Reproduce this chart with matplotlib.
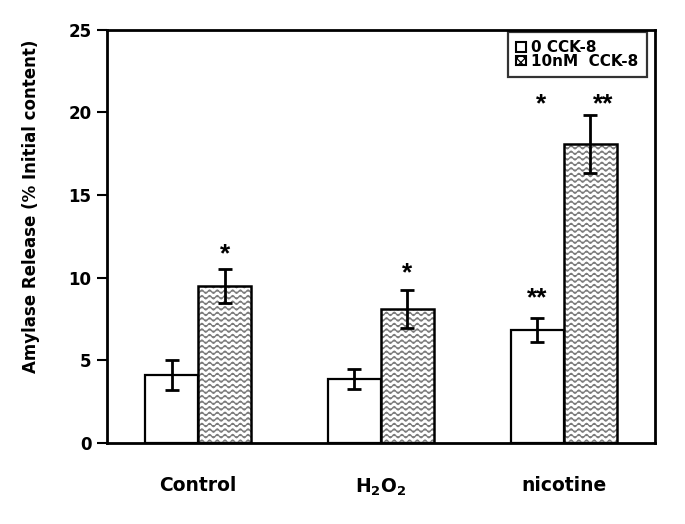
import warnings
warnings.filterwarnings("ignore")
import numpy as np
import matplotlib
matplotlib.use("Agg")
import matplotlib.pyplot as plt
import matplotlib.hatch as mhatch
from matplotlib.path import Path
from matplotlib.patches import Patch

# ---- data ----
categories = ["Control", r"$\mathbf{H_2O_2}$", "nicotine"]
basal = [4.1, 3.85, 6.85]
basal_err = [0.9, 0.6, 0.72]
cck = [9.5, 8.1, 18.1]
cck_err = [1.0, 1.15, 1.75]
series_labels = ["0 CCK-8", "10nM  CCK-8"]
yticks = [0, 5, 10, 15, 20, 25]


# ---- custom wavy hatch ----
class WaveHatch(mhatch.HatchPatternBase):
    def __init__(self, hatch, density):
        self.num_rows = int(hatch.count('~') * density)
        self.periods = 13
        self.pts = self.periods * 8 + 1
        self.num_vertices = self.num_rows * self.pts

    def set_vertices_and_codes(self, vertices, codes):
        ys = np.linspace(0.0, 1.0, self.num_rows, endpoint=False) + 0.5 / self.num_rows
        amp = 0.3 / self.num_rows
        xs = np.linspace(0.0, 1.0, self.pts)
        wave = amp * np.sin(2 * np.pi * self.periods * xs)
        for i, y in enumerate(ys):
            s = i * self.pts
            vertices[s:s + self.pts, 0] = xs
            vertices[s:s + self.pts, 1] = y + wave
            codes[s] = Path.MOVETO
            codes[s + 1:s + self.pts] = Path.LINETO


mhatch._hatch_types.append(WaveHatch)

plt.rcParams['font.family'] = ['DejaVu Sans']
plt.rcParams['mathtext.fontset'] = 'dejavusans'
plt.rcParams['hatch.linewidth'] = 0.9

fig = plt.figure(figsize=(6.85, 5.24), dpi=100)
ax = fig.add_axes([0.156, 0.1546, 0.8, 0.7884])

x = np.arange(len(categories))
w = 0.29

# white bars
ax.bar(x - w / 2, basal, w, color='white', edgecolor='black', linewidth=1.6, zorder=2)
# hatched bars: hatch layer then outline
ax.bar(x + w / 2, cck, w, color='white', edgecolor='#7a7a7a', linewidth=0, hatch='~~~', zorder=2)
ax.bar(x + w / 2, cck, w, fill=False, edgecolor='black', linewidth=1.8, zorder=3)

ax.errorbar(x - w / 2, basal, yerr=basal_err, fmt='none', ecolor='black',
            elinewidth=2, capsize=5, capthick=2, zorder=4)
ax.errorbar(x + w / 2, cck, yerr=cck_err, fmt='none', ecolor='black',
            elinewidth=2, capsize=5, capthick=2, zorder=4)

# significance marks
star_kw = dict(ha='center', va='center', fontsize=19, fontweight='bold',
               family=['Liberation Sans', 'DejaVu Sans'])
ax.text(x[0] + w / 2, cck[0] + cck_err[0] + 0.9, '*', **star_kw)
ax.text(x[1] + w / 2, cck[1] + cck_err[1] + 1.0, '*', **star_kw)
ax.text(x[2] - w / 2, basal[2] + basal_err[2] + 1.2, '**', **star_kw)
ax.text(x[2] + w / 2 - 0.27, cck[2] + cck_err[2] + 0.65, '*', **star_kw)
ax.text(x[2] + w / 2 + 0.07, cck[2] + cck_err[2] + 0.65, '**', **star_kw)

ax.set_xlim(-0.5, 2.5)
ax.set_ylim(0, 25)
ax.set_yticks(yticks)
ax.set_xticks(x)
ax.set_xticklabels(categories)
ax.tick_params(axis='x', length=0, pad=24, labelsize=13.5)
ax.tick_params(axis='y', length=7, width=1.5, direction='out', labelsize=12, pad=4)
for lab in ax.get_xticklabels() + ax.get_yticklabels():
    lab.set_fontweight('bold')
for sp in ax.spines.values():
    sp.set_linewidth(2)

ax.set_ylabel('Amylase Release (% Initial content)', fontsize=12, fontweight='bold')
ax.yaxis.set_label_coords(-0.122, 0.574)

handles = [Patch(facecolor='white', edgecolor='black', linewidth=1.5),
           Patch(facecolor='white', edgecolor='black', linewidth=1.5, hatch='xxxx')]
leg = ax.legend(handles, series_labels, loc='upper right', bbox_to_anchor=(0.985, 0.995),
                prop={'weight': 'bold', 'size': 11}, frameon=True, fancybox=False,
                handlelength=0.6, handleheight=0.6, handletextpad=0.35, borderpad=0.55,
                labelspacing=-0.1, borderaxespad=0.0)
leg.get_frame().set_edgecolor('black')
leg.get_frame().set_linewidth(1.6)

fig.savefig('out.png', dpi=100)
